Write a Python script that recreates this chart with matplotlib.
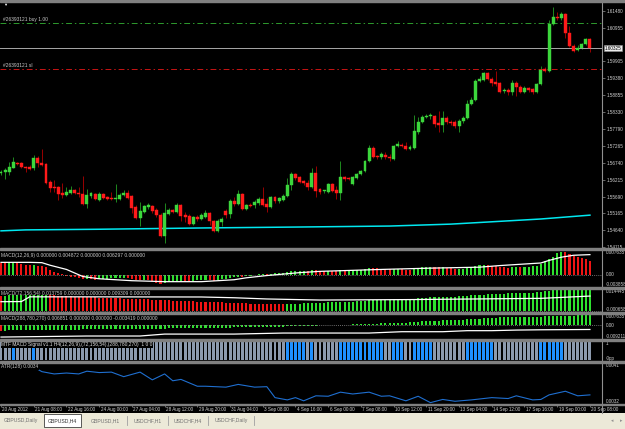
import matplotlib
matplotlib.use('Agg')
import matplotlib.pyplot as plt
import numpy as np
from matplotlib.patches import Rectangle
from matplotlib.lines import Line2D

plt.rcParams['font.family'] = ['Liberation Sans', 'DejaVu Sans']

# GBPUSD H4 candles, 20 Aug 2012 - 20 Sep 2012
opens = [1.5643, 1.5646, 1.5646, 1.5658, 1.5674, 1.5674, 1.5661, 1.5661, 1.5658, 1.5689,
         1.5674, 1.5671, 1.5614, 1.5599, 1.5599, 1.5580, 1.5574, 1.5580, 1.5590, 1.5580,
         1.5577, 1.5546, 1.5571, 1.5577, 1.5558, 1.5577, 1.5568, 1.5564, 1.5560, 1.5561,
         1.5574, 1.5580, 1.5571, 1.5536, 1.5502, 1.5521, 1.5536, 1.5540, 1.5527, 1.5511,
         1.5446, 1.5515, 1.5527, 1.5521, 1.5543, 1.5511, 1.5508, 1.5483, 1.5505, 1.5499,
         1.5505, 1.5518, 1.5493, 1.5462, 1.5490, 1.5524, 1.5515, 1.5555, 1.5546, 1.5577,
         1.5530, 1.5543, 1.5543, 1.5549, 1.5561, 1.5546, 1.5536, 1.5568, 1.5555, 1.5558,
         1.5571, 1.5605, 1.5639, 1.5630, 1.5618, 1.5611, 1.5599, 1.5643, 1.5593, 1.5585,
         1.5583, 1.5608, 1.5590, 1.5580, 1.5630, 1.5628, 1.5608, 1.5627, 1.5639, 1.5649,
         1.5680, 1.5720, 1.5696, 1.5692, 1.5699, 1.5692, 1.5686, 1.5727, 1.5730, 1.5727,
         1.5717, 1.5720, 1.5770, 1.5802, 1.5817, 1.5819, 1.5820, 1.5799, 1.5792, 1.5814,
         1.5802, 1.5802, 1.5789, 1.5805, 1.5814, 1.5858, 1.5870, 1.5930, 1.5933, 1.5955,
         1.5936, 1.5926, 1.5923, 1.5898, 1.5902, 1.5895, 1.5923, 1.5911, 1.5895, 1.5908,
         1.5905, 1.5895, 1.5920, 1.5967, 1.5961, 1.6107, 1.6129, 1.6126, 1.6139, 1.6079,
         1.6039, 1.6026, 1.6032, 1.6045, 1.6061]
highs = [1.5652, 1.5658, 1.5677, 1.5692, 1.5677, 1.5677, 1.5664, 1.5667, 1.5699, 1.5696,
         1.5717, 1.5674, 1.5621, 1.5621, 1.5602, 1.5611, 1.5599, 1.5602, 1.5593, 1.5599,
         1.5633, 1.5593, 1.5583, 1.5580, 1.5583, 1.5580, 1.5571, 1.5583, 1.5608, 1.5580,
         1.5590, 1.5590, 1.5574, 1.5543, 1.5552, 1.5543, 1.5549, 1.5543, 1.5533, 1.5518,
         1.5549, 1.5533, 1.5530, 1.5549, 1.5546, 1.5521, 1.5515, 1.5508, 1.5511, 1.5518,
         1.5527, 1.5521, 1.5496, 1.5499, 1.5505, 1.5530, 1.5561, 1.5568, 1.5590, 1.5580,
         1.5546, 1.5549, 1.5558, 1.5568, 1.5599, 1.5564, 1.5571, 1.5571, 1.5568, 1.5577,
         1.5627, 1.5646, 1.5643, 1.5633, 1.5621, 1.5621, 1.5658, 1.5664, 1.5596, 1.5590,
         1.5611, 1.5611, 1.5602, 1.5680, 1.5633, 1.5630, 1.5633, 1.5643, 1.5652, 1.5683,
         1.5730, 1.5727, 1.5699, 1.5708, 1.5708, 1.5702, 1.5730, 1.5742, 1.5736, 1.5739,
         1.5730, 1.5824, 1.5817, 1.5824, 1.5827, 1.5830, 1.5824, 1.5836, 1.5836, 1.5820,
         1.5808, 1.5808, 1.5811, 1.5820, 1.5870, 1.5880, 1.5936, 1.5945, 1.5958, 1.5958,
         1.5942, 1.5961, 1.5926, 1.5908, 1.5908, 1.5933, 1.5930, 1.5917, 1.5914, 1.5911,
         1.5908, 1.5923, 1.5976, 1.5973, 1.6120, 1.6160, 1.6145, 1.6145, 1.6142, 1.6101,
         1.6045, 1.6042, 1.6048, 1.6064, 1.6064]
lows = [1.5636, 1.5624, 1.5636, 1.5658, 1.5667, 1.5658, 1.5646, 1.5652, 1.5652, 1.5661,
        1.5664, 1.5608, 1.5583, 1.5583, 1.5558, 1.5564, 1.5571, 1.5577, 1.5577, 1.5568,
        1.5543, 1.5533, 1.5564, 1.5558, 1.5555, 1.5561, 1.5558, 1.5558, 1.5552, 1.5558,
        1.5571, 1.5561, 1.5518, 1.5499, 1.5477, 1.5518, 1.5530, 1.5518, 1.5505, 1.5443,
        1.5424, 1.5511, 1.5518, 1.5518, 1.5493, 1.5490, 1.5480, 1.5480, 1.5493, 1.5496,
        1.5502, 1.5480, 1.5458, 1.5458, 1.5477, 1.5502, 1.5502, 1.5540, 1.5543, 1.5527,
        1.5527, 1.5536, 1.5533, 1.5543, 1.5540, 1.5521, 1.5533, 1.5549, 1.5549, 1.5555,
        1.5568, 1.5590, 1.5621, 1.5611, 1.5605, 1.5590, 1.5596, 1.5568, 1.5577, 1.5580,
        1.5580, 1.5583, 1.5561, 1.5558, 1.5618, 1.5621, 1.5605, 1.5624, 1.5636, 1.5646,
        1.5677, 1.5689, 1.5686, 1.5686, 1.5686, 1.5680, 1.5683, 1.5724, 1.5724, 1.5714,
        1.5714, 1.5717, 1.5764, 1.5799, 1.5814, 1.5811, 1.5786, 1.5770, 1.5770, 1.5795,
        1.5792, 1.5783, 1.5770, 1.5799, 1.5811, 1.5855, 1.5867, 1.5926, 1.5930, 1.5933,
        1.5914, 1.5914, 1.5892, 1.5892, 1.5886, 1.5886, 1.5883, 1.5892, 1.5892, 1.5895,
        1.5889, 1.5892, 1.5917, 1.5958, 1.5958, 1.6104, 1.6120, 1.6120, 1.6064, 1.6036,
        1.6020, 1.6023, 1.6029, 1.6042, 1.6020]
closes = [1.5646, 1.5652, 1.5661, 1.5677, 1.5671, 1.5661, 1.5658, 1.5655, 1.5689, 1.5674,
          1.5667, 1.5611, 1.5596, 1.5596, 1.5577, 1.5574, 1.5583, 1.5590, 1.5580, 1.5577,
          1.5546, 1.5574, 1.5580, 1.5561, 1.5577, 1.5564, 1.5561, 1.5561, 1.5563, 1.5574,
          1.5580, 1.5564, 1.5533, 1.5502, 1.5524, 1.5540, 1.5543, 1.5524, 1.5511, 1.5446,
          1.5518, 1.5527, 1.5521, 1.5543, 1.5508, 1.5505, 1.5483, 1.5505, 1.5499, 1.5511,
          1.5518, 1.5493, 1.5462, 1.5493, 1.5499, 1.5511, 1.5555, 1.5546, 1.5577, 1.5530,
          1.5543, 1.5541, 1.5552, 1.5561, 1.5543, 1.5536, 1.5568, 1.5555, 1.5564, 1.5571,
          1.5605, 1.5639, 1.5627, 1.5614, 1.5611, 1.5599, 1.5643, 1.5586, 1.5583, 1.5588,
          1.5608, 1.5586, 1.5580, 1.5630, 1.5624, 1.5625, 1.5630, 1.5639, 1.5649, 1.5680,
          1.5720, 1.5692, 1.5692, 1.5702, 1.5692, 1.5689, 1.5727, 1.5733, 1.5727, 1.5717,
          1.5724, 1.5774, 1.5802, 1.5817, 1.5820, 1.5822, 1.5795, 1.5792, 1.5814, 1.5802,
          1.5799, 1.5789, 1.5805, 1.5814, 1.5858, 1.5870, 1.5930, 1.5936, 1.5955, 1.5936,
          1.5923, 1.5920, 1.5895, 1.5902, 1.5895, 1.5923, 1.5911, 1.5895, 1.5908, 1.5902,
          1.5895, 1.5920, 1.5964, 1.5961, 1.6107, 1.6129, 1.6126, 1.6139, 1.6079, 1.6039,
          1.6023, 1.6032, 1.6045, 1.6061, 1.6032]

ma_idx = [0, 6, 24, 49, 73, 95, 110, 132, 144]
ma_vals = [1.5462, 1.5465, 1.5467, 1.5471, 1.5474, 1.5477, 1.5483, 1.5499, 1.5511]

buy_price = 1.6110
sl_price = 1.5966
bid = 1.60325
price_ticks = [1.61480, 1.60955, 1.59905, 1.59380, 1.58855, 1.58330, 1.57790,
               1.57265, 1.56740, 1.56215, 1.55690, 1.55165, 1.54640, 1.54115]

# MACD histograms (x 1e-4)
macd1 = [36, 35, 36, 37, 35, 32, 30, 29, 31, 28, 26, 22, 15, 8, 4, 2,
         -3, -6, -9, -12, -15, -14, -15, -16,
         -15, -14, -13, -12, -12, -11, -11, -12, -14,
         -17, -18, -17, -18, -20, -25, -29, -26,
         -24, -22, -20, -19, -20, -21, -19, -18, -17, -16, -17, -19,
         -17, -15, -14, -11, -9, -6, -7, -5, -3, -1, 1, 2, 1,
         3, 4, 5, 6, 8, 11, 12, 12, 12, 11, 14, 13, 12,
         11, 12, 11, 10, 13, 12, 12, 13, 14, 15, 17, 21,
         20, 19, 18, 17, 16, 17, 17, 16, 15, 14, 18, 21, 23, 24, 25,
         23, 22, 22, 20, 19, 17, 17, 18, 21, 23, 26, 29, 31,
         30, 28, 27, 24, 22, 20, 22, 23, 22, 23, 24, 26, 28,
         32, 41, 48, 54, 67, 70, 69, 64, 57, 54, 53, 48, 41]
macd1_sig_idx = [0, 7, 10, 12, 16, 20, 24, 32, 40, 49, 57, 60, 65, 73, 78, 93, 105, 117, 122, 132, 134, 137, 140, 144]
macd1_sig = [38, 38, 37, 29, 16, -6, -13, -19, -22, -22, -16, -10, -3, 6, 10, 16, 20, 23, 28, 36, 44, 54, 60, 62]

macd2 = [100, 101, 102, 103, 103.5, 104, 104.5, 105, 105.5, 106, 106.3, 106.5,
         105, 103, 101, 99, 98, 96, 95, 94, 92, 91,
         90, 89, 88, 87, 86, 85, 84, 83, 82, 81,
         80, 79, 78, 77, 76, 74, 73, 72, 70, 69,
         68, 67, 66, 65, 64, 63, 62, 61, 60, 59,
         58, 57, 56, 55, 54, 53, 52, 51, 50, 49,
         48.8, 48.4, 48, 47.5, 47, 46.5, 46, 45.5,
         46, 47, 48, 49, 50, 51, 52, 53, 54, 55,
         56, 57, 58, 59, 60, 61, 62, 63, 65, 67,
         69, 71, 72, 73, 74, 75, 76, 77, 78, 79,
         80, 82, 84, 86, 88, 89, 90, 91, 92, 93,
         94, 95, 96, 98, 100, 102, 104, 106, 108, 110,
         111, 112, 113, 114, 115, 116, 117, 118, 119, 120,
         121, 122, 125, 130, 134, 137, 139, 141, 142, 143,
         143.5, 144, 144.2, 144.3, 144.4]
macd2_sig_idx = [0, 5, 7, 19, 49, 57, 65, 78, 100, 132, 144]
macd2_sig = [61, 62, 93, 93, 92, 87, 79, 72, 75, 83, 98]

macd3 = [-35, -35, -34, -34, -34, -33, -33, -33, -32, -32,
         -32, -31, -31, -31, -30, -30, -30, -29, -29, -29,
         -28, -28, -28, -27, -27, -27, -26, -26, -26, -25,
         -25, -25, -24, -24, -24, -23, -23, -23, -22, -22,
         -22, -21, -21, -21, -20, -20, -20, -19, -19, -18,
         -18, -17, -17, -16, -16, -15, -15, -14, -14, -13,
         -13, -12, -12, -11, -11, -10, -10, -9, -9, -8,
         -7, -6, -5, -5, -4, -3, -3, -2, -1, 0,
         1, 2, 3, 3, 4, 5, 6, 7, 8, 9,
         10, 11, 12, 13, 14, 15, 16, 17, 18, 19,
         21, 23, 25, 27, 29, 30, 31, 32, 33, 34,
         35, 36, 37, 38, 40, 42, 44, 46, 48, 50,
         51, 52, 53, 54, 54, 55, 55, 56, 56, 57,
         57, 58, 58, 60, 62, 63, 64, 65, 65, 66,
         66, 67, 67, 67, 67]
macd3_sig_idx = [0, 21, 34, 40, 57, 69, 78, 90, 98, 108, 114, 120, 126, 132, 144]
macd3_sig = [-79, -72, -72, -59, -59, -52, -52, -52, -43, -43, -36, -36, -32, -30, -28]

# MTF signal: candles where signal is on (blue)
mtf_runs = [(3, 3), (8, 8), (70, 74), (76, 76), (83, 93), (96, 98), (101, 105), (114, 120), (132, 137)]

atr_idx = [5, 9, 10, 13, 16, 19, 21, 24, 27, 30, 34, 37, 40, 42, 44, 48, 50, 55, 58, 62, 65, 67,
           70, 72, 74, 77, 80, 83, 86, 90, 93, 95, 99, 102, 105, 108, 111, 115, 120, 124, 126,
           130, 132, 134, 138, 141, 144]
atr_vals = [0.00396, 0.00396, 0.00391, 0.00386, 0.00388, 0.00386, 0.00392, 0.00389, 0.00390, 0.00380,
            0.00390, 0.00373, 0.00386, 0.00371, 0.00374, 0.00359, 0.00359, 0.00357, 0.00363, 0.00357,
            0.00358, 0.00334, 0.00329, 0.00334, 0.00327, 0.00338, 0.00337, 0.00346, 0.00342, 0.00346,
            0.00337, 0.00338, 0.00327, 0.00337, 0.00323, 0.00330, 0.00326, 0.00329, 0.00334, 0.00332,
            0.00338, 0.00329, 0.00330, 0.00340, 0.00348, 0.00338, 0.00340]

date_idx = [0, 8, 16, 24, 32, 40, 48, 56, 64, 72, 80, 88, 96, 104, 112, 120, 128, 136, 144]
date_labels = ['20 Aug 2012', '21 Aug 08:00', '22 Aug 16:00', '24 Aug 00:00', '27 Aug 04:00',
               '28 Aug 12:00', '29 Aug 20:00', '31 Aug 04:00', '3 Sep 08:00', '4 Sep 16:00',
               '6 Sep 00:00', '7 Sep 08:00', '10 Sep 12:00', '11 Sep 20:00', '13 Sep 04:00',
               '14 Sep 12:00', '17 Sep 16:00', '19 Sep 00:00', '20 Sep 08:00']

tabs = ['GBPUSD,Daily', 'GBPUSD,H4', 'GBPUSD,H1', 'USDCHF,H1', 'USDCHF,H4', 'USDCHF,Daily']

W, H = 625, 429
FS = 3.3
FL = 3.55
TXT = '#D0D0D0'
GREEN = '#2EE02E'
RED = '#F01414'

fig = plt.figure(figsize=(W / 100, H / 100), dpi=100)
fig.patch.set_facecolor('black')


def fy(y):
    return 1 - y / H


def panel(top, bottom, ylim):
    ax = fig.add_axes([0, fy(bottom), 602 / W, (bottom - top) / H])
    ax.set_facecolor('black')
    ax.set_xlim(-0.245, 146.95)
    ax.set_ylim(*ylim)
    ax.set_xticks([])
    ax.set_yticks([])
    for s in ax.spines.values():
        s.set_visible(False)
    return ax


def side_labels(ax, items):
    tr = ax.get_yaxis_transform()
    for val, txt, va in items:
        ax.text(1.006, val, txt, transform=tr, fontsize=FS, color=TXT, va=va, ha='left')


idx = np.arange(len(closes))
o = np.array(opens)
c = np.array(closes)
up = c >= o

# main chart
ax = panel(2, 248, (1.54085, 1.61761))
ax.plot(ma_idx, ma_vals, color='#00E8F0', lw=1.1, zorder=1)
ax.vlines(idx, lows, highs, colors=np.where(up, '#1E8A1E', '#9A0000'), lw=0.7, zorder=2)
ax.bar(idx, np.abs(c - o), bottom=np.minimum(o, c), width=0.72,
       color=np.where(up, '#3CD63C', '#FF1A1A'), edgecolor=np.where(up, '#3CD63C', '#FF1A1A'),
       lw=0.3, zorder=3)
ax.axhline(buy_price, color='#2E9B2E', lw=0.7, ls=(0, (6, 3, 1.5, 3)))
ax.axhline(sl_price, color='#C81414', lw=0.7, ls=(0, (6, 3, 1.5, 3)))
ax.axhline(bid, color='#A8A8A8', lw=0.7)
blend = ax.get_yaxis_transform()
ax.annotate('#26393121 buy 1.00', xy=(0.005, buy_price), xycoords=blend, xytext=(0, 0.8),
            textcoords='offset points', fontsize=FL, color='#C8C8C8', va='bottom')
ax.annotate('#26393121 sl', xy=(0.005, sl_price), xycoords=blend, xytext=(0, 0.8),
            textcoords='offset points', fontsize=FL, color='#C8C8C8', va='bottom')
ax.yaxis.tick_right()
ax.set_yticks(price_ticks)
ax.set_yticklabels(['%.5f' % p for p in price_ticks])
ax.tick_params(axis='y', length=2, width=0.5, colors='#909090', labelcolor=TXT, labelsize=FS, pad=1.2)
ax.text(1.004, bid, '%.5f' % bid, transform=blend, fontsize=FS, color='black', va='center', ha='left',
        bbox=dict(boxstyle='square,pad=0.12', fc='#ECECEC', ec='#909090', lw=0.4))
fig.text(3 / W, fy(5), '\u25BC', fontsize=3, color='white', va='center')


def macd_panel(top, bottom, lo, hi, vals, sig_idx, sig, label, labels):
    a = panel(top, bottom, (lo, hi))
    v = np.array(vals) * 1e-4
    prev = np.concatenate([[v[0] + 1], v[:-1]])
    a.bar(idx, v, width=0.5, color=np.where(v >= prev, GREEN, RED))
    a.axhline(0, color='#909090', lw=0.6, ls=(0, (1, 1.5)))
    a.plot(sig_idx, np.array(sig) * 1e-4, color='white', lw=0.9)
    a.text(0.002, 0.93, label, transform=a.transAxes, fontsize=FL, color='#C8C8C8', va='top')
    side_labels(a, labels)
    return a


macd_panel(250, 287, -0.003858, 0.007635, macd1, macd1_sig_idx, macd1_sig,
           'MACD(12,26,9) 0.000000 0.004872 0.000000 0.006297 0.000000',
           [(0.007635, '0.007635', 'top'), (0.0, '0.00', 'center'), (-0.003858, '-0.003858', 'bottom')])
macd_panel(289, 312, -0.000658, 0.014445, macd2, macd2_sig_idx, macd2_sig,
           'MACD(72,156,54) 0.013759 0.000000 0.000000 0.009309 0.000000',
           [(0.014445, '0.014445', 'top'), (-0.000658, '-0.000658', 'bottom')])
macd_panel(314, 339, -0.009211, 0.007635, macd3, macd3_sig_idx, macd3_sig,
           'MACD(288,780,270) 0.006851 0.000000 0.000000 -0.003419 0.000000',
           [(0.007635, '0.007635', 'top'), (0.0, '0.00', 'center'), (-0.009211, '-0.009211', 'bottom')])

# MTF signal bars
ax = panel(341, 361, (-0.05, 1.05))
on = np.zeros(len(idx), dtype=bool)
for s, e in mtf_runs:
    on[s:e + 1] = True
ax.bar(idx, 1.0, bottom=0, width=0.72, color=np.where(on, '#1E90FF', '#8C9AAE'))
ax.text(0.002, 0.93, 'MTF MACD Signal v1.1 H4(12,26,9),(72,156,54),(288,780,270)  1 0 0',
        transform=ax.transAxes, fontsize=FL, color='#E0E0E0', va='top',
        bbox=dict(boxstyle='square,pad=0.1', fc='black', ec='none'))
side_labels(ax, [(1.05, '1', 'top'), (-0.05, '-0pp', 'bottom')])

# ATR
ax = panel(363, 404, (0.0032, 0.0041))
ax.plot(atr_idx, atr_vals, color='#1F6FD0', lw=0.8)
ax.text(0.002, 0.97, 'ATR(128) 0.0034', transform=ax.transAxes, fontsize=FL, color='#C8C8C8', va='top',
        bbox=dict(boxstyle='square,pad=0.1', fc='black', ec='none'))
side_labels(ax, [(0.0041, '0.0041', 'top'), (0.0032, '0.0032', 'bottom')])

# date strip
ax = panel(404, 413, (0, 1))
ax.set_xticks(date_idx)
ax.set_xticklabels([])
ax.xaxis.set_ticks_position('top')
ax.tick_params(axis='x', direction='in', length=2.5, width=0.5, colors='#909090')
for i, lab in zip(date_idx, date_labels):
    ax.text(i + 0.35, 0.42, lab, fontsize=FS, color=TXT, va='center', ha='left')

# separators and price scale border
for y0, y1 in [(0, 1.5), (248, 250), (287, 289), (312, 314), (339, 341), (361, 363), (404, 405)]:
    fig.patches.append(Rectangle((0, fy(y1)), 1, (y1 - y0) / H, transform=fig.transFigure,
                                 color='#808080', zorder=5))
fig.add_artist(Line2D([602 / W, 602 / W], [fy(413), 1], transform=fig.transFigure, color='#909090', lw=0.8))

# tab bar
tb = fig.add_axes([0, 0, 1, 16 / H])
tb.set_xlim(0, W)
tb.set_ylim(16, 0)
tb.set_facecolor('#ECE9D8')
tb.set_xticks([])
tb.set_yticks([])
for s in tb.spines.values():
    s.set_visible(False)
tb.add_patch(Rectangle((44, 1), 37, 13, fc='white', ec='#404040', lw=0.6))
tab_x = [21, 62, 105, 148, 188, 231]
for i, (tx, name) in enumerate(zip(tab_x, tabs)):
    tb.text(tx, 7.5, name, fontsize=3.7, color='#303030' if i == 1 else '#707070', ha='center', va='center')
for sx in [127, 168, 208, 254]:
    tb.plot([sx, sx], [3, 12], color='#A0A0A0', lw=0.6)
tb.text(612, 7.5, '\u25C2', fontsize=3.5, color='#909090', ha='center', va='center')
tb.text(621, 7.5, '\u25B8', fontsize=3.5, color='#909090', ha='center', va='center')

fig.savefig('out.png', dpi=100, facecolor=fig.get_facecolor())
